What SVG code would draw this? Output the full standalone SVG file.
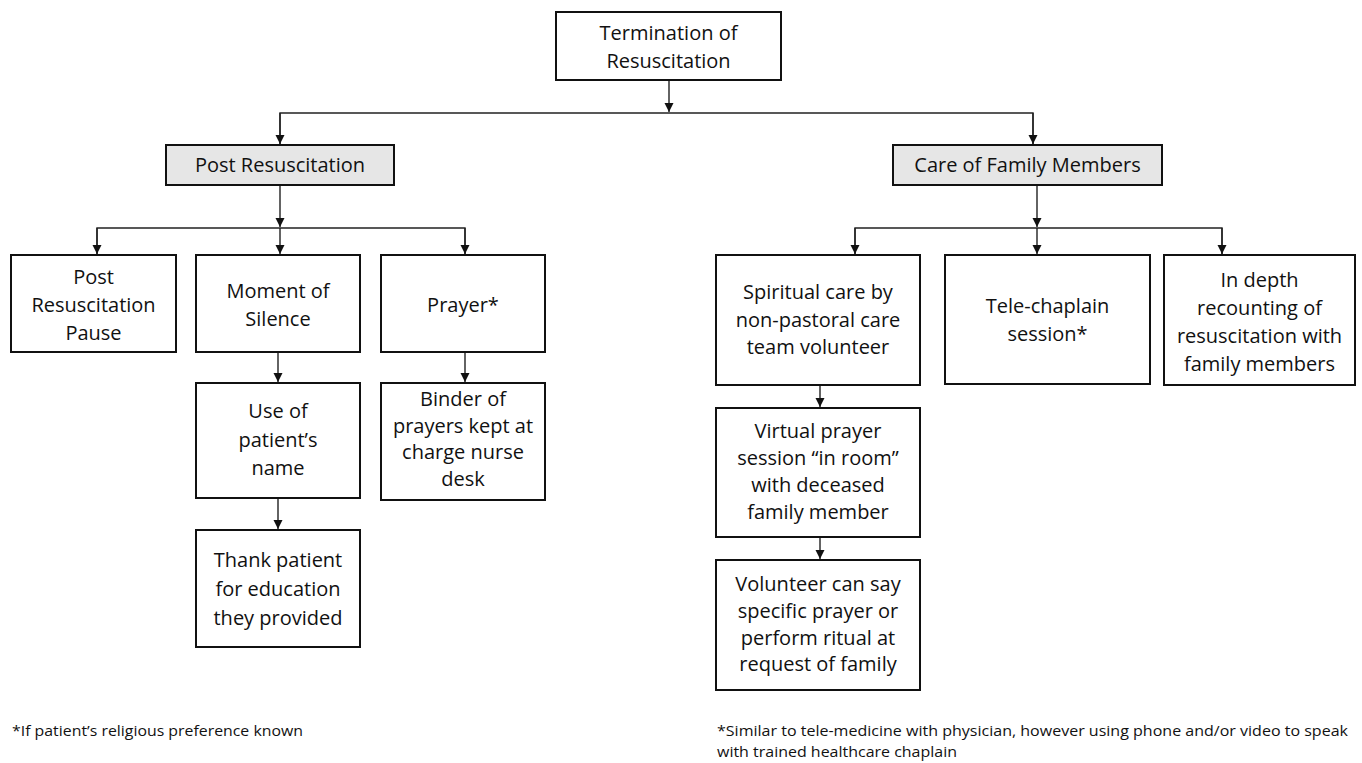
<svg xmlns="http://www.w3.org/2000/svg" width="1362" height="763" viewBox="0 0 1362 763">
<style>
.box{fill:#fff;stroke:#111;stroke-width:2}
.hdr{fill:#e6e6e6;stroke:#111;stroke-width:2}
.t{font-family:"Open Sans","Liberation Sans",sans-serif;font-size:20px;fill:#111;text-anchor:middle}
.fn{font-family:"Open Sans","Liberation Sans",sans-serif;font-size:15px;fill:#111}
.c{fill:none;stroke:#222;stroke-width:1.4}
</style>
<defs>
<marker id="ah" markerWidth="10" markerHeight="10" refX="9" refY="5" orient="auto" markerUnits="userSpaceOnUse">
<path d="M0,0.5 L9,5 L0,9.5 Z" fill="#111"/>
</marker>
</defs>
<rect width="1362" height="763" fill="#fff"/>
<g id="connectors">
<path class="c" d="M669,80 V112" marker-end="url(#ah)"/>
<path class="c" d="M280,145 V113 H1033 V145" />
<path class="c" d="M280,113 V144" marker-end="url(#ah)"/>
<path class="c" d="M1033,113 V144" marker-end="url(#ah)"/>
<path class="c" d="M280,185 V227" marker-end="url(#ah)"/>
<path class="c" d="M97,254 V228 H465 V254"/>
<path class="c" d="M97,228 V254" marker-end="url(#ah)"/>
<path class="c" d="M280,228 V254" marker-end="url(#ah)"/>
<path class="c" d="M465,228 V254" marker-end="url(#ah)"/>
<path class="c" d="M278,352 V382" marker-end="url(#ah)"/>
<path class="c" d="M465,352 V382" marker-end="url(#ah)"/>
<path class="c" d="M278,498 V529" marker-end="url(#ah)"/>
<path class="c" d="M1037,185 V227" marker-end="url(#ah)"/>
<path class="c" d="M855,254 V228 H1222 V254"/>
<path class="c" d="M855,228 V254" marker-end="url(#ah)"/>
<path class="c" d="M1037,228 V254" marker-end="url(#ah)"/>
<path class="c" d="M1222,228 V254" marker-end="url(#ah)"/>
<path class="c" d="M820,385 V407" marker-end="url(#ah)"/>
<path class="c" d="M820,537 V559" marker-end="url(#ah)"/>
</g>
<g id="termination">
<rect class="box" x="556" y="12" width="225" height="68"/>
<text class="t" x="668.5" y="40">Termination of</text>
<text class="t" x="668.5" y="68">Resuscitation</text>
</g>
<g id="post-resuscitation">
<rect class="hdr" x="166" y="145" width="228" height="40"/>
<text class="t" x="280" y="172">Post Resuscitation</text>
</g>
<g id="care-family">
<rect class="hdr" x="893" y="145" width="269" height="40"/>
<text class="t" x="1027.5" y="172">Care of Family Members</text>
</g>
<g id="pause">
<rect class="box" x="11" y="255" width="165" height="97"/>
<text class="t" x="93.5" y="284">Post</text>
<text class="t" x="93.5" y="312">Resuscitation</text>
<text class="t" x="93.5" y="340">Pause</text>
</g>
<g id="silence">
<rect class="box" x="196" y="255" width="164" height="97"/>
<text class="t" x="278" y="298">Moment of</text>
<text class="t" x="278" y="326">Silence</text>
</g>
<g id="prayer">
<rect class="box" x="381" y="255" width="164" height="97"/>
<text class="t" x="463" y="312">Prayer*</text>
</g>
<g id="name">
<rect class="box" x="196" y="383" width="164" height="115"/>
<text class="t" x="278" y="418">Use of</text>
<text class="t" x="278" y="447">patient’s</text>
<text class="t" x="278" y="475">name</text>
</g>
<g id="thank">
<rect class="box" x="196" y="530" width="164" height="117"/>
<text class="t" x="278" y="567">Thank patient</text>
<text class="t" x="278" y="596">for education</text>
<text class="t" x="278" y="625">they provided</text>
</g>
<g id="binder">
<rect class="box" x="381" y="383" width="164" height="117"/>
<text class="t" x="463" y="406">Binder of</text>
<text class="t" x="463" y="433">prayers kept at</text>
<text class="t" x="463" y="459">charge nurse</text>
<text class="t" x="463" y="486">desk</text>
</g>
<g id="spiritual">
<rect class="box" x="716" y="255" width="204" height="130"/>
<text class="t" x="818" y="299">Spiritual care by</text>
<text class="t" x="818" y="327">non-pastoral care</text>
<text class="t" x="818" y="354">team volunteer</text>
</g>
<g id="telechaplain">
<rect class="box" x="945" y="255" width="205" height="129"/>
<text class="t" x="1047.5" y="313">Tele-chaplain</text>
<text class="t" x="1047.5" y="341">session*</text>
</g>
<g id="indepth">
<rect class="box" x="1164" y="255" width="191" height="130"/>
<text class="t" x="1259.5" y="287">In depth</text>
<text class="t" x="1259.5" y="315">recounting of</text>
<text class="t" x="1259.5" y="343">resuscitation with</text>
<text class="t" x="1259.5" y="371">family members</text>
</g>
<g id="virtual">
<rect class="box" x="716" y="408" width="204" height="129"/>
<text class="t" x="818" y="438">Virtual prayer</text>
<text class="t" x="818" y="465">session “in room”</text>
<text class="t" x="818" y="492">with deceased</text>
<text class="t" x="818" y="519">family member</text>
</g>
<g id="volunteer">
<rect class="box" x="716" y="560" width="204" height="130"/>
<text class="t" x="818" y="591">Volunteer can say</text>
<text class="t" x="818" y="618">specific prayer or</text>
<text class="t" x="818" y="645">perform ritual at</text>
<text class="t" x="818" y="671">request of family</text>
</g>
<g id="footnotes">
<text class="fn" x="12" y="736" textLength="291" lengthAdjust="spacingAndGlyphs">*If patient’s religious preference known</text>
<text class="fn" x="717" y="736" textLength="631" lengthAdjust="spacingAndGlyphs">*Similar to tele-medicine with physician, however using phone and/or video to speak</text>
<text class="fn" x="717" y="757" textLength="240" lengthAdjust="spacingAndGlyphs">with trained healthcare chaplain</text>
</g>
</svg>
